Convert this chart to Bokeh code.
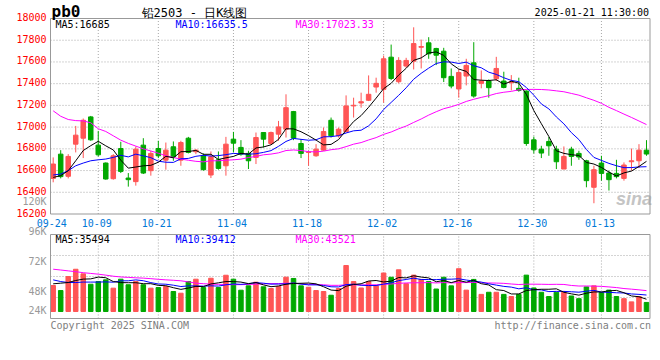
import numpy as np
from bokeh.plotting import figure
from bokeh.models import Range1d, Label, ColumnDataSource
from bokeh.embed import file_html
from bokeh.resources import INLINE

# ---------------- data ----------------
dates = ["09-24", "09-25", "09-26", "09-27", "09-30",
         "10-08", "10-09", "10-10", "10-11", "10-14", "10-15", "10-16", "10-17", "10-18",
         "10-21", "10-22", "10-23", "10-24", "10-25", "10-28", "10-29", "10-30", "10-31",
         "11-01", "11-04", "11-05", "11-06", "11-07", "11-08", "11-11", "11-12", "11-13",
         "11-14", "11-15", "11-18", "11-19", "11-20", "11-21", "11-22", "11-25", "11-26",
         "11-27", "11-28", "11-29",
         "12-02", "12-03", "12-04", "12-05", "12-06", "12-09", "12-10", "12-11", "12-12",
         "12-13", "12-16", "12-17", "12-18", "12-19", "12-20", "12-23", "12-24", "12-25",
         "12-26", "12-27", "12-30", "12-31",
         "01-02", "01-03", "01-06", "01-07", "01-08", "01-09", "01-10", "01-13", "01-14",
         "01-15", "01-16", "01-17", "01-20", "01-21"]

opens = [16528, 16751, 16547, 16843, 16898, 17094, 16834, 16669, 16525, 16803,
         16531, 16498, 16834, 16599, 16803, 16696, 16819, 16696, 16898, 16773,
         16736, 16559, 16699, 16644, 16889, 16813, 16758, 16721, 16950, 16849,
         16935, 16981, 17143, 16849, 16767, 16736, 16788, 17063, 16920, 16959,
         17195, 17222, 17247, 17369, 17348, 17644, 17418, 17562, 17607, 17735,
         17776, 17724, 17699, 17467, 17351, 17470, 17592, 17403, 17424, 17445,
         17424, 17409, 17357, 17332, 16883, 16797, 16868, 16797, 16614, 16797,
         16758, 16690, 16446, 16669, 16577, 16574, 16528, 16681, 16690, 16788]
highs = [16721, 16788, 16751, 17011, 17079, 17103, 16965, 16675, 16751, 16865,
         16577, 16822, 16898, 16782, 16874, 16858, 16868, 16874, 16910, 16797,
         16758, 16776, 16776, 16910, 16956, 16880, 16782, 16950, 16950, 16959,
         17057, 17302, 17149, 16889, 16782, 16843, 16996, 17088, 16996, 17292,
         17271, 17317, 17476, 17455, 17659, 17760, 17644, 17638, 17919, 17806,
         17828, 17730, 17730, 17540, 17531, 17629, 17782, 17522, 17439, 17647,
         17510, 17479, 17455, 17338, 16913, 16828, 16910, 16828, 16822, 16819,
         16782, 16699, 16644, 16736, 16599, 16699, 16675, 16803, 16843, 16880]
lows = [16492, 16528, 16528, 16767, 16715, 16874, 16730, 16516, 16516, 16577,
        16452, 16461, 16568, 16553, 16715, 16608, 16690, 16644, 16758, 16751,
        16599, 16531, 16608, 16553, 16767, 16736, 16614, 16660, 16813, 16837,
        16874, 16904, 16880, 16715, 16644, 16727, 16782, 16904, 16904, 16950,
        17088, 17179, 17240, 17317, 17225, 17433, 17403, 17546, 17531, 17540,
        17629, 17571, 17415, 17357, 17271, 17384, 17271, 17357, 17271, 17424,
        17357, 17338, 17326, 16828, 16758, 16715, 16736, 16614, 16614, 16644,
        16699, 16446, 16299, 16507, 16416, 16528, 16507, 16599, 16623, 16736]
closes = [16660, 16544, 16730, 16926, 17063, 16883, 16745, 16522, 16736, 16592,
          16516, 16797, 16577, 16758, 16736, 16788, 16727, 16858, 16767, 16788,
          16608, 16727, 16620, 16843, 16852, 16751, 16690, 16904, 16889, 16950,
          17002, 17179, 16898, 16758, 16770, 16797, 16959, 16920, 16981, 17195,
          17201, 17234, 17302, 17403, 17629, 17448, 17614, 17614, 17769, 17742,
          17675, 17662, 17455, 17378, 17503, 17568, 17286, 17424, 17363, 17540,
          17365, 17418, 17338, 16849, 16791, 16761, 16828, 16681, 16730, 16730,
          16725, 16507, 16608, 16574, 16516, 16544, 16651, 16690, 16788, 16752]
volumes = [48300, 43600, 56700, 63500, 59200, 49500, 52000, 53600, 45800, 54200,
           49000, 52000, 49000, 45800, 46400, 47400, 42700, 41100, 52000, 54200,
           46400, 55100, 46400, 57900, 54200, 43900, 48000, 51400, 47100, 45500,
           47400, 56100, 54900, 48000, 46700, 43600, 42700, 39200, 45500, 67000,
           52000, 46000, 52000, 48000, 60000, 56000, 63000, 50000, 58000, 54000,
           52000, 45000, 56000, 48000, 64000, 44000, 54000, 40000, 42000, 42000,
           40000, 38000, 40000, 58000, 46000, 42000, 38000, 42000, 42000, 38510,
           36000, 47000, 48000, 41650, 44000, 38000, 36000, 33000, 38000, 32470]

# moving-average values before enough history exists
ma5_head = [16537, 16553, 16599, 16690]
ma10_head = [16559, 16568, 16599, 16644, 16669, 16690, 16699, 16706, 16721]
ma30_head = [17150, 17100, 17070, 17060, 17057, 17040, 16985, 16960, 16920, 16880,
             16850, 16825, 16800, 16780, 16760, 16736, 16720, 16705, 16695, 16685,
             16680, 16690, 16690, 16695, 16699, 16705, 16720, 16730, 16745]
vma5_head = [49900, 50500, 51100, 53000]
vma10_head = [53600, 52000, 51100, 51100, 51500, 51500, 51500, 51700, 51400]
vma30_head = [63550, 62800, 62000, 61200, 60300, 59600, 58900, 58000, 57000, 56300,
              55900, 55500, 55200, 54700, 54100, 53600, 53200, 52700, 51700, 50500,
              50000, 49600, 49400, 49200, 49100, 49100, 49300, 49600, 49900]

tick_dates = ["09-24", "10-09", "10-21", "11-04", "11-18", "12-02", "12-16", "12-30", "01-13"]
price_ticks = [16200, 16400, 16600, 16800, 17000, 17200, 17400, 17600, 17800, 18000]
vol_labels = ["120K", "96K", "72K", "48K", "24K"]
vol_label_vals = [120000, 96000, 72000, 48000, 24000]

# ---------------- helpers ----------------
def rolling(vals, n, head):
    out = list(head)
    for i in range(len(head), len(vals)):
        out.append(sum(vals[i - n + 1:i + 1]) / n)
    return out

def fmt(v):
    s = "%.2f" % round(v, 2)
    return s.rstrip("0").rstrip(".")

x = list(range(len(dates)))
ma5 = rolling(closes, 5, ma5_head)
ma10 = rolling(closes, 10, ma10_head)
ma30 = rolling(closes, 30, ma30_head)
vma5 = rolling(volumes, 5, vma5_head)
vma10 = rolling(volumes, 10, vma10_head)
vma30 = rolling(volumes, 30, vma30_head)

UP, DOWN = "#ff5555", "#00a800"
colors = [UP if c >= o else DOWN for o, c in zip(opens, closes)]
src = ColumnDataSource(dict(x=x, o=opens, h=highs, l=lows, c=closes,
                            top=[max(o, c) for o, c in zip(opens, closes)],
                            bot=[min(o, c) for o, c in zip(opens, closes)],
                            v=volumes, color=colors))

# ---------------- layout geometry (pixels of the reference picture) ----------------
W, H = 656, 340
CANVAS_L, CANVAS_T = 0, 0            # canvas origin in reference pixels
C0, STEP = 52.7, 7.51                # first candle centre / candle spacing
P_TOP, P_BOT = 18.0, 213.5           # price panel: 18000 .. 16200
P_HI, P_LO = 18000, 16200
V_TOP, V_BASE, V_BOT = 234.0, 311.0, 318.0   # volume panel: 96000 top, 24000 base
V_HI, V_BASEVAL = 96000, 24000
PANEL_L, PANEL_R = 50.0, 649.5
TEXT_RAISE = 3                       # baseline correction for all texts

def xi(px):
    return (px - C0) / STEP

kp = (P_HI - P_LO) / (P_BOT - P_TOP)
kv = (V_HI - V_BASEVAL) / (V_BASE - V_TOP)
VLO = V_BASEVAL - (V_BOT - V_BASE) * kv
X0, X1 = xi(PANEL_L), xi(PANEL_R)

p = figure(width=W, height=H,
           x_range=Range1d(xi(CANVAS_L), xi(CANVAS_L + W)),
           y_range=Range1d(P_LO - (CANVAS_T + H - P_BOT) * kp, P_HI + (P_TOP - CANVAS_T) * kp),
           min_border=0, min_border_left=0, min_border_right=0, min_border_top=0,
           min_border_bottom=0, output_backend="svg", toolbar_location=None, title=None)
p.extra_y_ranges = {"vol": Range1d(V_BASEVAL - (CANVAS_T + H - V_BASE) * kv,
                                   V_HI + (V_TOP - CANVAS_T) * kv)}
p.axis.visible = False
p.grid.visible = False
p.outline_line_color = None
p.background_fill_color = "white"
p.border_fill_color = "white"

MONO = "DejaVu Sans Mono"
GRID = "#a8a8a8"
BORDER = "#999999"
tick_idx = [dates.index(d) for d in tick_dates]

# ---- grids ----
gy = price_ticks[1:-1]
p.segment(x0=[X0] * len(gy), y0=gy, x1=[X1] * len(gy), y1=gy,
          line_color=GRID, line_dash="1 2", line_width=1)
gx = tick_idx[1:]
p.segment(x0=gx, y0=[P_LO] * len(gx), x1=gx, y1=[P_HI] * len(gx),
          line_color=GRID, line_dash="1 2", line_width=1)
vgy = [VLO + k * (V_HI - VLO) / 4 for k in (1, 2, 3)]
p.segment(x0=[X0] * 3, y0=vgy, x1=[X1] * 3, y1=vgy, y_range_name="vol",
          line_color=GRID, line_dash="1 2", line_width=1)
p.segment(x0=gx, y0=[VLO] * len(gx), x1=gx, y1=[V_HI] * len(gx), y_range_name="vol",
          line_color=GRID, line_dash="1 2", line_width=1)

def lab(text, x, y, dx=0, dy=0, color="black", align="left", size="10px",
        font=MONO, style_="normal", yname="default"):
    p.add_layout(Label(x=x, y=y, x_offset=dx, y_offset=dy + TEXT_RAISE, text=text,
                       y_range_name=yname, text_color=color, text_align=align,
                       text_baseline="alphabetic", text_font=font,
                       text_font_size=size, text_font_style=style_, level="underlay"
                       if text == "sina" else "annotation"))

# watermark
lab("sina", X1, P_LO, dx=-34, dy=12, color="#c4c4c4", size="18px",
    font="Liberation Sans", style_="bold italic")

# ---- price panel ----
p.segment(x0="x", y0="h", x1="x", y1="l", color="color", line_width=1, source=src)
p.vbar(x="x", width=0.6, top="top", bottom="bot", fill_color="color",
       line_color="color", line_width=1, source=src)
p.line(x, ma30, color="#ff00ff", line_width=1)
p.line(x, ma10, color="#0000ff", line_width=1)
p.line(x, ma5, color="black", line_width=1)

# ---- volume panel ----
p.vbar(x="x", width=0.6, top="v", bottom=V_BASEVAL, fill_color="color",
       line_color="color", line_width=1, source=src, y_range_name="vol")
p.line(x, vma30, color="#ff00ff", line_width=1, y_range_name="vol")
p.line(x, vma10, color="#0000ff", line_width=1, y_range_name="vol")
p.line(x, vma5, color="black", line_width=1, y_range_name="vol")

# ---- panel borders ----
p.quad(left=[X0], right=[X1], bottom=[P_LO], top=[P_HI], fill_color=None,
       line_color=BORDER, line_width=1)
p.quad(left=[X0], right=[X1], bottom=[VLO], top=[V_HI], fill_color=None,
       line_color=BORDER, line_width=1, y_range_name="vol")

for t in price_ticks:
    lab(str(t), X0, t, dx=-4, dy=-1.5, color="#ff0000", align="right")
lab(vol_labels[0], X0, P_LO, dx=-4, dy=10, color="#999999", align="right")

lab("pb0", X0, P_HI, dx=1, dy=4, size="16px", style_="bold")
lab("铅2503 - 日K线图", X0, P_HI, dx=144, dy=3, align="center", size="12px")
lab("2025-01-21 11:30:00", X1, P_HI, dx=-1, dy=3, align="right")

lab("MA5:" + fmt(ma5[-1]), X0, P_HI, dx=5, dy=-8.5, color="black")
lab("MA10:" + fmt(ma10[-1]), X0, P_HI, dx=125, dy=-8.5, color="#0000ff")
lab("MA30:" + fmt(ma30[-1]), X0, P_HI, dx=245, dy=-8.5, color="#ff00ff")

for d, i in zip(tick_dates, tick_idx):
    lab(d, i, P_LO, dx=-1.5, dy=-11.5, color="#0078d7", align="center")

vdy = [0, -4.3, -8.7, -2.3]
for t, v, dy in zip(vol_labels[1:], vol_label_vals[1:], vdy):
    lab(t, X0, v, dx=-4, dy=dy, color="#999999", align="right", yname="vol")

lab("MA5:" + fmt(vma5[-1]), X0, V_HI, dx=5, dy=-8, color="black", yname="vol")
lab("MA10:" + fmt(vma10[-1]), X0, V_HI, dx=125, dy=-8, color="#0000ff", yname="vol")
lab("MA30:" + fmt(vma30[-1]), X0, V_HI, dx=245, dy=-8, color="#ff00ff", yname="vol")

lab("Copyright 2025 SINA.COM", X0, VLO, dx=0, dy=-10, color="#808080", yname="vol")
lab("http://finance.sina.com.cn", X1, VLO, dx=1, dy=-10, color="#808080",
    align="right", yname="vol")

open("out.html", "w").write(file_html(p, INLINE))
